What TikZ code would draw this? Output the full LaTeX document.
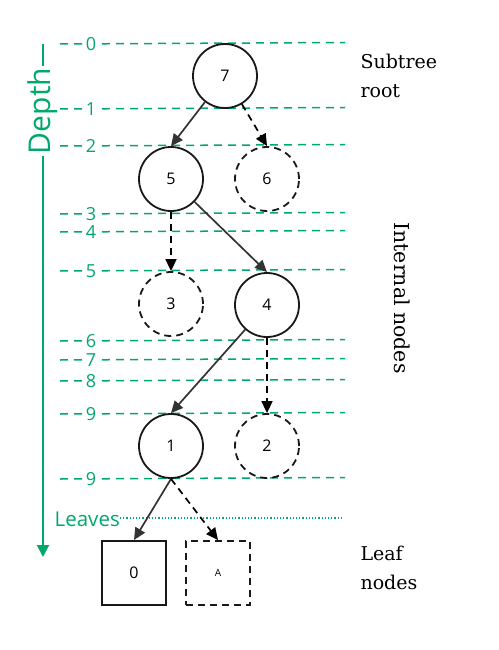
\documentclass[tikz,border=0pt]{standalone}
\usepackage{fontspec}
\setmainfont{Open Sans}
\newfontfamily\seriffont{DejaVu Serif}
\usetikzlibrary{arrows.meta}
\definecolor{dgreen}{HTML}{00A86B}
\definecolor{edgegray}{HTML}{333333}
\begin{document}
\begin{tikzpicture}[x=1pt,y=-1pt,
  tnode/.style={circle,draw=black!90,line width=1.8pt,minimum size=64pt,inner sep=0pt,font=\fontsize{16}{16}\selectfont},
  ghost/.style={tnode,dash pattern=on 7pt off 5pt},
  leafbox/.style={rectangle,draw=black!90,line width=2pt,minimum size=64pt,inner sep=0pt,font=\fontsize{16}{16}\selectfont},
  ghostbox/.style={leafbox,line width=1.8pt,dash pattern=on 7pt off 5pt},
  realedge/.style={draw=edgegray,line width=1.7pt,-{Triangle[length=12pt,width=11pt]}},
  ghostedge/.style={draw=black,line width=1.7pt,dash pattern=on 7pt off 5pt,-{Triangle[length=12pt,width=11pt]}},
  depthline/.style={draw=dgreen,line width=1.5pt,dash pattern=on 8pt off 6pt},
  depthlabel/.style={fill=white,text=dgreen,inner sep=1.5pt,font=\fontsize{18}{18}\selectfont},
  sidelabel/.style={align=left,anchor=west,font=\seriffont\fontsize{19}{28.5}\selectfont}
]
\useasboundingbox (0,0) rectangle (498,650);

% depth lines
\foreach \yy/\lab/\name in {44/0/d0,109/1/d1,146/2/d2,214/3/d3,232/4/d4,271/5/d5,341/6/d6,360/7/d7,381/8/d8,414/9/d9,479/9/d10}{
  \coordinate (\name s) at (60,\yy);
  \coordinate (\name e) at (345,\yy-1.5);
  \draw[depthline] (\name s) -- (\name e);
  \node[depthlabel] (\name l) at (91,\yy) {\lab};
}
% leaves line
\coordinate (lvs) at (120,518);
\coordinate (lve) at (342,518);
\draw[dgreen,line width=1.2pt,dotted] (lvs) -- (lve);
\node[text=dgreen,font=\fontsize{20.5}{20.5}\selectfont,inner sep=1pt,anchor=east] (leaves) at (121,519) {Leaves};

% depth axis
\coordinate (ax0) at (43,44);
\coordinate (ax1) at (43,557);
\draw[dgreen,line width=2pt,-{Triangle[length=12pt,width=12pt]}] (ax0) -- (ax1);
\node[fill=white,text=dgreen,rotate=90,inner sep=2pt,font=\fontsize{30}{30}\selectfont] (depth) at (43,111) {Depth};

% tree nodes
\node[tnode] (n7) at (225,76) {7};
\node[tnode] (n5) at (171,179) {5};
\node[ghost] (n6) at (267,179) {6};
\node[ghost] (n3) at (171,304) {3};
\node[tnode] (n4) at (267,305) {4};
\node[tnode] (n1) at (171,446) {1};
\node[ghost] (n2) at (267,446) {2};
\node[leafbox] (n0) at (134,573) {0};
\node[ghostbox,font=\fontsize{10}{10}\selectfont] (nA) at (218,573) {A};

% edges
\draw[realedge] (n7) -- (n5.north);
\draw[ghostedge] (n7) -- (n6.north);
\draw[ghostedge] (n5) -- (n3.north);
\draw[realedge] (n5) -- (n4.north);
\draw[realedge] (n4) -- (n1.north);
\draw[ghostedge] (n4) -- (n2.north);
\draw[realedge] (n1.south) -- (n0.north);
\draw[ghostedge] (n1.south) -- (nA.north);

% side labels
\node[sidelabel] (sub) at (357,76) {Subtree\\root};
\node[font=\seriffont\fontsize{20.5}{20.5}\selectfont,rotate=-90] (internal) at (402,298) {Internal nodes};
\node[sidelabel] (leafl) at (357,568) {Leaf\\nodes};
\end{tikzpicture}
\end{document}
